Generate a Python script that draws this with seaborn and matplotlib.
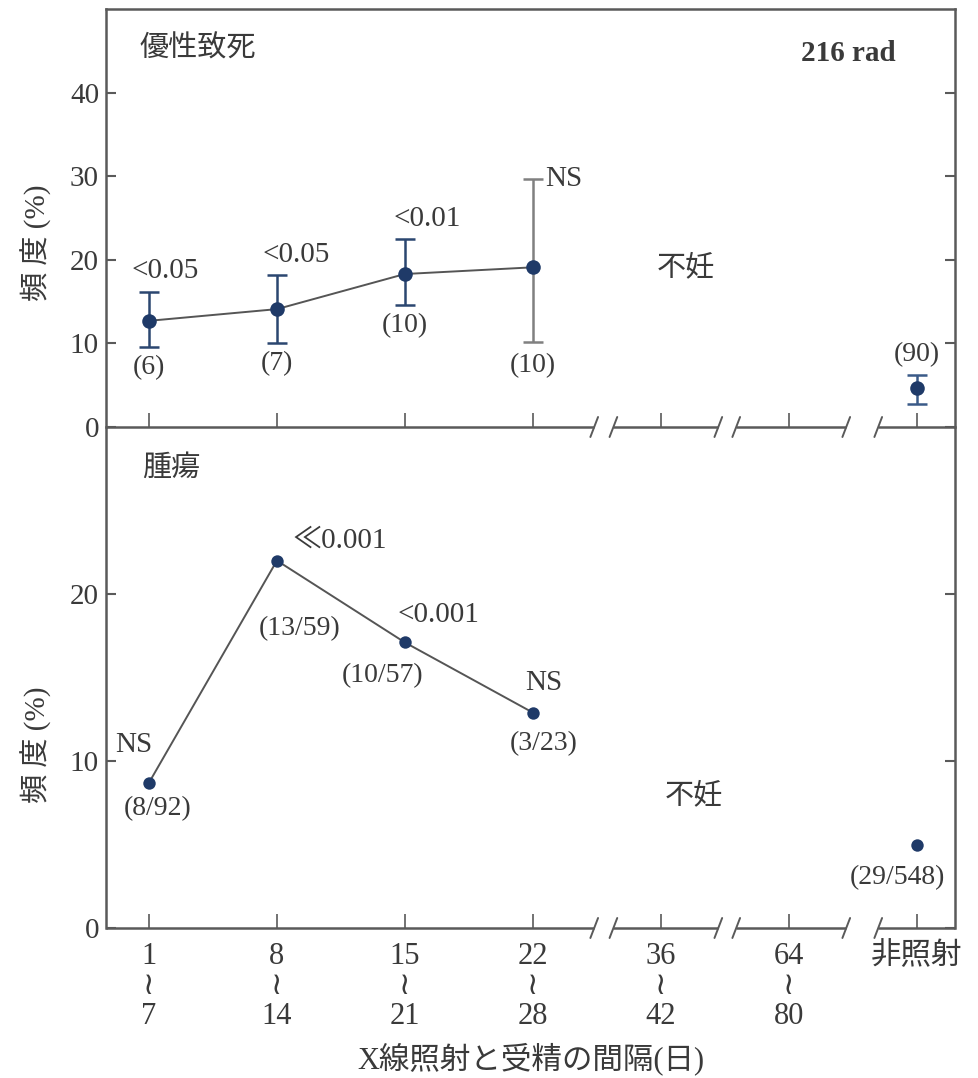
import numpy as np
import pandas as pd
import matplotlib
matplotlib.use("Agg")
import matplotlib.pyplot as plt
import seaborn as sns

# ---------------- data ----------------
categories = ["1~7", "8~14", "15~21", "22~28", "36~42", "64~80", "非照射"]
tick_labels = ["1\n≀\n7", "8\n≀\n14", "15\n≀\n21", "22\n≀\n28",
               "36\n≀\n42", "64\n≀\n80", "非照射"]

# upper panel: dominant lethal (優性致死)
lethal_cats = ["1~7", "8~14", "15~21", "22~28", "非照射"]
lethal_pct = [12.7, 14.1, 18.3, 19.1, 4.7]
lethal_hi = [16.2, 18.2, 22.5, 29.7, 6.2]
lethal_lo = [9.6, 10.1, 14.6, 10.2, 2.8]
lethal_n = ["(6)", "(7)", "(10)", "(10)", "(90)"]
lethal_p = ["<0.05", "<0.05", "<0.01", "NS", ""]
lethal_connected = [True, True, True, True, False]

# lower panel: tumours (腫瘍)
tumor_cats = ["1~7", "8~14", "15~21", "22~28", "非照射"]
tumor_pct = [8.7, 22.0, 17.1, 12.9, 5.0]
tumor_n = ["(8/92)", "(13/59)", "(10/57)", "(3/23)", "(29/548)"]
tumor_p = ["NS", "≪0.001", "<0.001", "NS", ""]
tumor_connected = [True, True, True, True, False]

# ---------------- style ----------------
sns.set_theme(style="ticks")
FAM = ["Liberation Serif", "Noto Sans CJK JP", "DejaVu Sans"]
plt.rcParams["font.family"] = FAM
TXT = "#3a3a3a"
SPINE = "#5a5a5a"
DOT = "#1f3a68"
LINE = "#555555"
ERRC = ["#2b4670", "#2b4670", "#2b4670", "#808080", "#3a5a88"]
plt.rcParams["text.color"] = TXT
plt.rcParams["axes.labelcolor"] = TXT
plt.rcParams["xtick.color"] = SPINE
plt.rcParams["ytick.color"] = SPINE
plt.rcParams["xtick.labelcolor"] = TXT
plt.rcParams["ytick.labelcolor"] = TXT

pos = {c: i for i, c in enumerate(categories)}

df_l = pd.DataFrame({"cat": lethal_cats, "pct": lethal_pct, "hi": lethal_hi,
                     "lo": lethal_lo, "conn": lethal_connected})
df_l["x"] = df_l["cat"].map(pos)
df_t = pd.DataFrame({"cat": tumor_cats, "pct": tumor_pct, "conn": tumor_connected})
df_t["x"] = df_t["cat"].map(pos)

W, H = 979, 1078
fig = plt.figure(figsize=(W / 100, H / 100), dpi=100)
left, right = 106 / W, 955 / W
y_top, y_mid, y_bot = 9, 427, 928
ax1 = fig.add_axes([left, 1 - y_mid / H, right - left, (y_mid - y_top) / H])
ax2 = fig.add_axes([left, 1 - y_bot / H, right - left, (y_bot - y_mid) / H], sharex=ax1)
ax2.patch.set_visible(False)

XL = (-0.336, 6.30)
FS = 21

# ---- upper panel ----
sns.lineplot(data=df_l[df_l["conn"]], x="x", y="pct", ax=ax1, color=LINE,
             linewidth=1.4, estimator=None, sort=False, zorder=2)
for i, r in df_l.iterrows():
    ax1.errorbar(r["x"], r["pct"], yerr=[[r["pct"] - r["lo"]], [r["hi"] - r["pct"]]],
                 fmt="none", ecolor=ERRC[i], elinewidth=1.8, capsize=7, capthick=1.8, zorder=3)
sns.scatterplot(data=df_l, x="x", y="pct", ax=ax1, color=DOT, s=110,
                edgecolor=DOT, linewidth=0, zorder=4, legend=False)

p_off = [(12, 15, "center"), (14, 14, "center"), (16, 14, "center"), (9, 0, "left"), (0, 0, "center")]
for i, r in df_l.iterrows():
    if lethal_p[i]:
        dx, dy, ha = p_off[i]
        ax1.annotate(lethal_p[i], (r["x"], r["hi"]), xytext=(dx, dy), textcoords="offset points",
                     ha=ha, va="center", fontsize=FS)
    if r["conn"]:
        dy = -17 if i == 3 else -15
        ax1.annotate(lethal_n[i], (r["x"], r["lo"]), xytext=(0, dy), textcoords="offset points",
                     ha="center", va="center", fontsize=FS - 1)
    else:
        ax1.annotate(lethal_n[i], (r["x"], r["hi"]), xytext=(0, 15), textcoords="offset points",
                     ha="center", va="center", fontsize=FS - 1)

ax1.text(0.04, 0.905, "優性致死", transform=ax1.transAxes, fontsize=FS, ha="left", va="center")
ax1.text(0.93, 0.893, "216 rad", transform=ax1.transAxes, fontsize=FS, ha="right", va="center",
         fontweight="bold")
ax1.text(4.2, 19.1, "不妊", fontsize=FS, ha="center", va="center")

ax1.set_ylim(0, 50)
ax1.set_yticks([0, 10, 20, 30, 40])
ax1.set_ylabel("頻 度 (%)", fontsize=FS)
ax1.yaxis.set_label_coords(-0.064, 0.44)

# ---- lower panel ----
sns.lineplot(data=df_t[df_t["conn"]], x="x", y="pct", ax=ax2, color=LINE,
             linewidth=1.4, estimator=None, sort=False, zorder=2)
sns.scatterplot(data=df_t, x="x", y="pct", ax=ax2, color=DOT, s=80,
                edgecolor=DOT, linewidth=0, zorder=4, legend=False)

tp_off = [(-11, 27, "center"), (11, 14, "left"), (24, 20, "center"), (8, 21, "center"), (0, 0, "center")]
tn_off = [(6, -19), (16, -49), (-16, -24), (8, -22), (-14, -24)]
for i, r in df_t.iterrows():
    if tumor_p[i]:
        dx, dy, ha = tp_off[i]
        ax2.annotate(tumor_p[i], (r["x"], r["pct"]), xytext=(dx, dy), textcoords="offset points",
                     ha=ha, va="center", fontsize=FS)
    dx, dy = tn_off[i]
    ax2.annotate(tumor_n[i], (r["x"], r["pct"]), xytext=(dx, dy), textcoords="offset points",
                 ha="center", va="center", fontsize=FS - 1)

ax2.text(0.042, 0.918, "腫瘍", transform=ax2.transAxes, fontsize=FS, ha="left", va="center")
ax2.text(4.26, 7.9, "不妊", fontsize=FS, ha="center", va="center")

ax2.set_ylim(0, 30)
ax2.set_yticks([0, 10, 20])
ax2.set_ylabel("頻 度 (%)", fontsize=FS)
ax2.yaxis.set_label_coords(-0.064, 0.365)
ax2.set_xlabel("X線照射と受精の間隔(日)", fontsize=FS + 1, labelpad=8)

# ---- axes cosmetics ----
ax2.set_xlim(*XL)
ax2.set_xticks(range(len(categories)))
ax2.set_xticklabels(tick_labels, fontsize=FS + 1, linespacing=1.05)
ax1.tick_params(axis="x", labelbottom=False)
ax1.set_xlabel("")

breaks = [(3.48, 3.63), (4.45, 4.59), (5.45, 5.70)]
for ax, hfrac in ((ax1, 10 / (y_mid - y_top)), (ax2, 10 / (y_bot - y_mid))):
    for s in ("top", "right", "left"):
        ax.spines[s].set_color(SPINE)
        ax.spines[s].set_linewidth(1.8)
    ax.spines["bottom"].set_visible(False)
    ax.tick_params(axis="y", direction="in", length=7, width=1.5, labelsize=FS,
                   left=True, right=True, pad=5)
    ax.tick_params(axis="x", direction="in", length=10, width=1.2, pad=10, bottom=True, top=False)
    tr = ax.get_xaxis_transform()
    edges = [XL[0]] + [b for pair in breaks for b in pair] + [XL[1]]
    for a, b in zip(edges[0::2], edges[1::2]):
        ax.plot([a, b], [0, 0], transform=tr, color=SPINE, lw=1.8, clip_on=False,
                solid_capstyle="butt", zorder=5)
    for pair in breaks:
        for xb in pair:
            ax.plot([xb - 0.03, xb + 0.03], [-hfrac, hfrac], transform=tr, color=SPINE,
                    lw=1.4, clip_on=False, zorder=5)
ax2.spines["top"].set_visible(False)

fig.savefig("out.png", dpi=100)
